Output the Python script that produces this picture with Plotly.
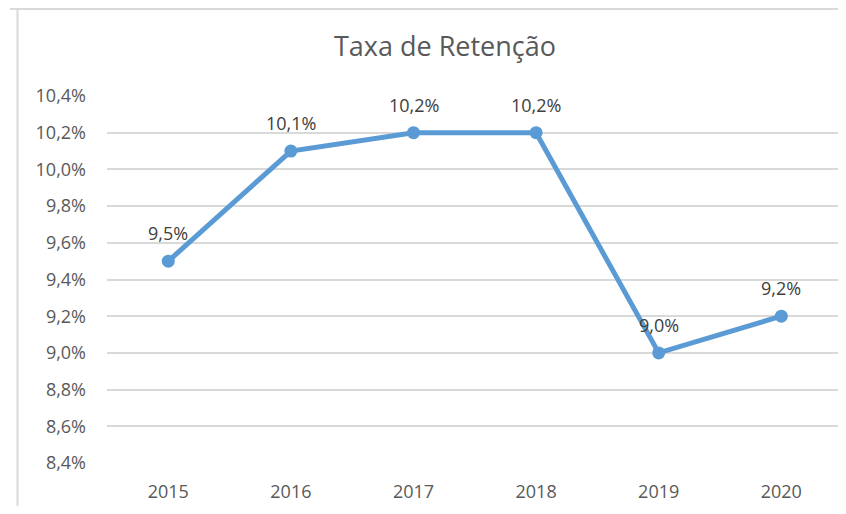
import plotly.graph_objects as go

years = ["2015", "2016", "2017", "2018", "2019", "2020"]
retention = [9.5, 10.1, 10.2, 10.2, 9.0, 9.2]
labels = ["9,5%", "10,1%", "10,2%", "10,2%", "9,0%", "9,2%"]
y_ticks = [8.4, 8.6, 8.8, 9.0, 9.2, 9.4, 9.6, 9.8, 10.0, 10.2, 10.4]
y_tick_text = ["8,4%", "8,6%", "8,8%", "9,0%", "9,2%", "9,4%", "9,6%", "9,8%", "10,0%", "10,2%", "10,4%"]

# page has an 8px body margin; figure coordinates = page coordinates - 8
OFF = 8
W, H = 830, 498
L = 107 - OFF
T = 96 - OFF
B = H - (463 - OFF)
R = 0
pw = W - L - R
ph = H - T - B
band = 122.6
x_hi = -0.5 + pw / band

FONT = "Open Sans"

fig = go.Figure()
fig.add_trace(go.Scatter(
    x=years, y=retention, mode="lines+markers",
    line=dict(color="#5B9BD5", width=5),
    marker=dict(color="#5B9BD5", size=13),
    cliponaxis=False, hoverinfo="skip",
))

for i, (v, lab) in enumerate(zip(retention, labels)):
    fig.add_annotation(x=i, y=v, xref="x", yref="y", text=lab, showarrow=False,
                       xanchor="center", yanchor="middle", yshift=28,
                       font=dict(family=FONT, size=18, color="#404040"))

def px(x):
    return (x - OFF - L) / pw

def py(y):
    return 1 - (y - OFF - T) / ph

shapes = [
    dict(type="line", xref="paper", yref="paper", x0=px(10), x1=px(846), y0=py(9), y1=py(9),
         line=dict(color="#D9D9D9", width=2)),
    dict(type="line", xref="paper", yref="paper", x0=px(17.5), x1=px(17.5), y0=py(8), y1=py(514),
         line=dict(color="#D9D9D9", width=2)),
]

fig.update_layout(
    width=W, height=H,
    margin=dict(l=L, r=R, t=T, b=B, pad=0),
    paper_bgcolor="white", plot_bgcolor="white",
    showlegend=False,
    shapes=shapes,
    title=dict(text="Taxa de Retenção", x=(445 - OFF) / W, xanchor="center",
               y=1 - (47 - OFF) / H, yanchor="middle",
               font=dict(family=FONT, size=27, color="#595959")),
    xaxis=dict(type="category", range=[-0.5, x_hi], showgrid=False, showline=False,
               zeroline=False, ticks="", ticklabelstandoff=16,
               tickfont=dict(family=FONT, size=18, color="#595959")),
    yaxis=dict(range=[8.4, 10.4], tickvals=y_ticks, ticktext=y_tick_text,
               showgrid=True, gridcolor="#D9D9D9", gridwidth=1.5,
               showline=False, zeroline=False, ticks="", ticklabelstandoff=20,
               tickfont=dict(family=FONT, size=18, color="#595959")),
)

fig.write_html("out.html")
